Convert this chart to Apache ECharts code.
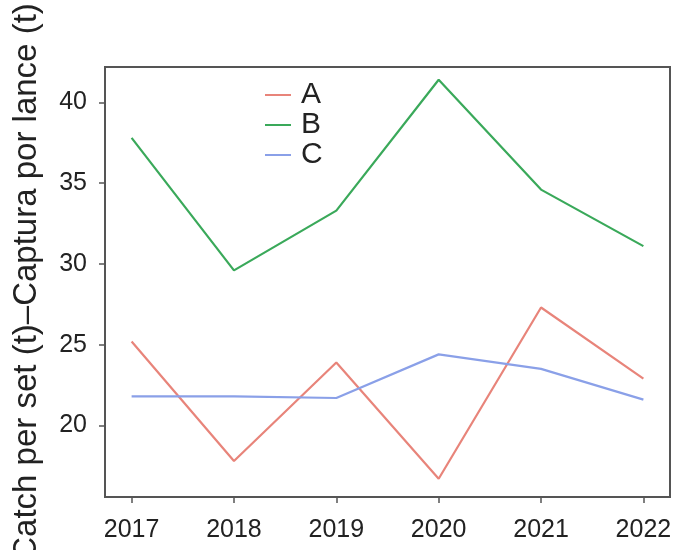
<!DOCTYPE html>
<html>
<head>
<meta charset="utf-8">
<script src="https://cdn.jsdelivr.net/npm/echarts@6/dist/echarts.min.js"></script>
<style>
  html, body { margin: 0; padding: 0; background: #fff; }
  #chart { width: 684px; height: 550px; }
</style>
</head>
<body>
<div id="chart"></div>
<script>
// Catch per set by group, 2017–2022
const years = [2017, 2018, 2019, 2020, 2021, 2022];
const seriesA = [25.2, 17.8, 23.9, 16.7, 27.3, 22.9];
const seriesB = [37.8, 29.6, 33.3, 41.4, 34.6, 31.1];
const seriesC = [21.8, 21.8, 21.7, 24.4, 23.5, 21.6];
const yTicks = [20, 25, 30, 35, 40];
const seriesNames = ['A', 'B', 'C'];
const colors = ['#e8847a', '#3aa95a', '#8aa0e8'];

const pairs = vals => years.map((y, i) => [y, vals[i]]);
const font = '"Liberation Sans", Arial, sans-serif';

const chart = echarts.init(document.getElementById('chart'), null, { renderer: 'canvas' });
chart.setOption({
  animation: false,
  backgroundColor: '#fff',
  grid: {
    left: 105, right: 14, top: 67, bottom: 53,
    outerBoundsMode: 'none',
    containLabel: false,
    show: true, borderColor: '#555', borderWidth: 2, backgroundColor: 'transparent'
  },
  legend: {
    data: seriesNames,
    orient: 'vertical',
    left: 260, top: 75,
    icon: 'rect',
    itemWidth: 26, itemHeight: 2,
    itemGap: 0,
    textStyle: { fontFamily: font, fontSize: 30, color: '#222', lineHeight: 26, padding: [0, 0, 0, 5] }
  },
  xAxis: {
    type: 'value',
    min: 2016.74, max: 2022.26,
    axisLine: { show: true, lineStyle: { color: '#555', width: 2 } },
    axisTick: { show: true, customValues: years, length: 6, lineStyle: { color: '#555', width: 1.5 } },
    axisLabel: {
      customValues: years, formatter: v => String(v),
      fontFamily: font, fontSize: 25, color: '#222', margin: 21
    },
    splitLine: { show: false }
  },
  yAxis: {
    type: 'value',
    min: 15.57, max: 42.19,
    name: 'Catch per set (t)–Captura por lance (t)',
    nameLocation: 'middle',
    nameGap: 62,
    nameTextStyle: { fontFamily: font, fontSize: 33, color: '#222' },
    axisLine: { show: true, lineStyle: { color: '#555', width: 2 } },
    axisTick: { show: true, customValues: yTicks, length: 6, lineStyle: { color: '#555', width: 1.5 } },
    axisLabel: {
      customValues: yTicks, formatter: v => String(v),
      fontFamily: font, fontSize: 25, color: '#222', margin: 18
    },
    splitLine: { show: false }
  },
  series: [seriesA, seriesB, seriesC].map((vals, i) => ({
    name: seriesNames[i],
    type: 'line',
    data: pairs(vals),
    symbol: 'none',
    color: colors[i],
    lineStyle: { color: colors[i], width: 2.2 }
  }))
});
</script>
</body>
</html>
